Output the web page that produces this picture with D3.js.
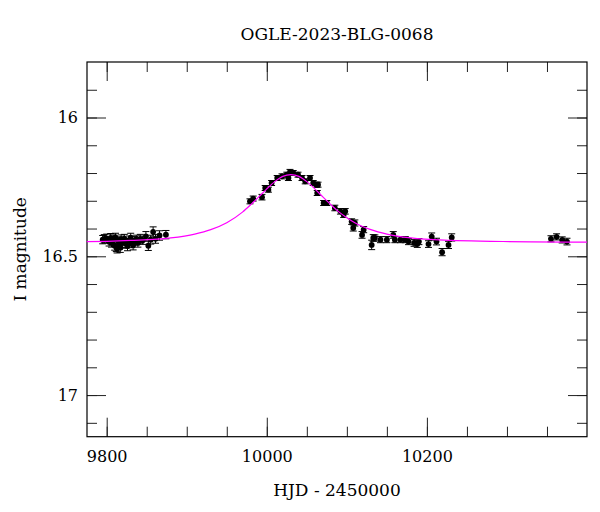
<!DOCTYPE html>
<html>
<head>
<meta charset="utf-8">
<script src="https://cdn.jsdelivr.net/npm/d3@7"></script>
<style>
	body { margin: 0; background: #fff; }
	svg { font-family: "DejaVu Serif", serif; }
</style>
</head>
<body>
<div id="chart"></div>
<script>
// observation epochs (HJD - 2450000)
var obsTime = [
	9795, 9797, 9800, 9803, 9805, 9806, 9808, 9810, 9811, 9812, 9813, 9815,
	9816, 9817, 9818, 9820, 9822, 9824, 9826, 9828, 9830, 9831, 9833, 9835,
	9837, 9839, 9842, 9845, 9849, 9852, 9855, 9858, 9861, 9866, 9874,
	9979, 9983, 9994, 9998, 10002, 10006, 10013, 10019, 10025, 10027, 10029,
	10033, 10039, 10044, 10048, 10054, 10058, 10062, 10064, 10063, 10071, 10075,
	10085, 10092, 10096, 10098, 10106, 10110, 10108, 10121, 10119, 10131, 10133,
	10135, 10142, 10150, 10158, 10160, 10167, 10173, 10177, 10184, 10188, 10190,
	10202, 10206, 10212, 10219, 10227, 10231,
	10355, 10362, 10369, 10375
]

// I magnitudes
var obsMag = [
	16.440, 16.437, 16.436, 16.448, 16.434, 16.452, 16.440, 16.462, 16.432, 16.466, 16.472, 16.445,
	16.458, 16.469, 16.438, 16.452, 16.436, 16.455, 16.463, 16.442, 16.433, 16.454, 16.460, 16.444,
	16.440, 16.452, 16.437, 16.442, 16.428, 16.462, 16.440, 16.412, 16.437, 16.425, 16.422,
	16.302, 16.292, 16.287, 16.254, 16.260, 16.236, 16.218, 16.212, 16.206, 16.218, 16.196,
	16.200, 16.206, 16.218, 16.230, 16.218, 16.236, 16.242, 16.242, 16.272, 16.308, 16.308,
	16.326, 16.338, 16.350, 16.338, 16.375, 16.380, 16.398, 16.404, 16.423, 16.459, 16.434,
	16.434, 16.440, 16.440, 16.423, 16.440, 16.440, 16.440, 16.447, 16.452, 16.456, 16.447,
	16.456, 16.429, 16.447, 16.485, 16.459, 16.432,
	16.437, 16.430, 16.441, 16.447
]

// photometric errors
var obsErr = [
	0.015, 0.015, 0.016, 0.015, 0.016, 0.015, 0.017, 0.016, 0.015, 0.017, 0.016, 0.015,
	0.016, 0.017, 0.015, 0.016, 0.015, 0.016, 0.017, 0.015, 0.016, 0.015, 0.017, 0.015,
	0.016, 0.015, 0.016, 0.015, 0.017, 0.017, 0.016, 0.018, 0.016, 0.017, 0.015,
	0.009, 0.009, 0.010, 0.009, 0.009, 0.009, 0.009, 0.009, 0.009, 0.009, 0.009,
	0.009, 0.009, 0.009, 0.009, 0.009, 0.009, 0.009, 0.009, 0.009, 0.009, 0.009,
	0.010, 0.010, 0.010, 0.010, 0.010, 0.011, 0.011, 0.011, 0.012, 0.017, 0.012,
	0.011, 0.011, 0.011, 0.012, 0.011, 0.011, 0.011, 0.011, 0.012, 0.012, 0.011,
	0.012, 0.013, 0.012, 0.013, 0.013, 0.013,
	0.011, 0.011, 0.011, 0.012
]

// model light curve
var modelTime = [9775, 9800, 9830, 9880, 9910, 9930, 9950, 9970, 9980, 9990, 10000, 10010,
	10020, 10030, 10040, 10050, 10060, 10070, 10080, 10090, 10100, 10110, 10130, 10150,
	10180, 10230, 10280, 10330, 10400]
var modelMag = [16.447, 16.446, 16.443, 16.434, 16.420, 16.404, 16.379, 16.340, 16.314, 16.286,
	16.257, 16.231, 16.212, 16.206, 16.212, 16.231, 16.257, 16.286, 16.314, 16.340, 16.361,
	16.379, 16.404, 16.420, 16.434, 16.443, 16.446, 16.448, 16.449]

var xMajor = [9800, 10000, 10200]
var xMinor = [9800, 9850, 9900, 9950, 10000, 10050, 10100, 10150, 10200, 10250, 10300, 10350]
var yMajor = [16, 16.5, 17]
var yMinor = [15.9, 16, 16.1, 16.2, 16.3, 16.4, 16.5, 16.6, 16.7, 16.8, 16.9, 17, 17.1]

var title = "OGLE-2023-BLG-0068"
var xLabel = "HJD - 2450000"
var yLabel = "I magnitude"

var width = 600
var height = 512
// frame edges (window.top is read-only, so no plain "top")
var pLeft = 87, pRight = 587, pTop = 62, pBottom = 436.7

var svg = d3.select("#chart")
	.append("svg")
	.attr("width", width)
	.attr("height", height)

var x = d3.scaleLinear()
	.domain([9775.4, 10400])
	.range([pLeft, pRight])

// magnitudes grow downward
var y = d3.scaleLinear()
	.domain([15.8, 17.15])
	.range([pTop, pBottom])

//draws one set of inward ticks on a side
function ticks(axis, values, size, labels, transform) {
	var g = svg.append("g")
		.attr("transform", transform)
		.call(axis.tickValues(values).tickSize(-size).tickPadding(labels ? 14 : 0)
			.tickFormat(labels ? d3.format("") : ""))
	g.select(".domain").remove()
	g.selectAll("line").attr("stroke", "#222").attr("stroke-width", 1)
	g.selectAll("text")
		.attr("fill", "#000")
		.style("font-family", '"DejaVu Serif", serif')
		.style("font-size", "16px")
	return g
}

ticks(d3.axisBottom(x), xMinor, 10, false, "translate(0," + pBottom + ")")
ticks(d3.axisBottom(x), xMajor, 19, true, "translate(0," + pBottom + ")")
ticks(d3.axisTop(x), xMinor, 10, false, "translate(0," + pTop + ")")
ticks(d3.axisTop(x), xMajor, 19, false, "translate(0," + pTop + ")")
ticks(d3.axisLeft(y), yMinor, 10, false, "translate(" + pLeft + ",0)")
ticks(d3.axisLeft(y), yMajor, 19, true, "translate(" + pLeft + ",0)")
	.selectAll("text").attr("x", -9)
ticks(d3.axisRight(y), yMinor, 10, false, "translate(" + pRight + ",0)")
ticks(d3.axisRight(y), yMajor, 19, false, "translate(" + pRight + ",0)")

svg.append("rect")
	.attr("x", pLeft)
	.attr("y", pTop)
	.attr("width", pRight - pLeft)
	.attr("height", pBottom - pTop)
	.attr("fill", "none")
	.attr("stroke", "#000")
	.attr("stroke-width", 1.2)

var dat = obsTime.map(function(t, i) {
	return { t: t, mag: obsMag[i], err: obsErr[i] }
})

var plot = svg.append("g")

// error bars with caps
var bars = plot.selectAll(".err")
	.data(dat)
	.enter()
	.append("g")
	.attr("stroke", "#000")
	.attr("stroke-width", 1)
bars.append("line")
	.attr("x1", function(d) { return x(d.t) })
	.attr("x2", function(d) { return x(d.t) })
	.attr("y1", function(d) { return y(d.mag - d.err) })
	.attr("y2", function(d) { return y(d.mag + d.err) })
bars.append("line")
	.attr("x1", function(d) { return x(d.t) - 3.5 })
	.attr("x2", function(d) { return x(d.t) + 3.5 })
	.attr("y1", function(d) { return y(d.mag - d.err) })
	.attr("y2", function(d) { return y(d.mag - d.err) })
bars.append("line")
	.attr("x1", function(d) { return x(d.t) - 3.5 })
	.attr("x2", function(d) { return x(d.t) + 3.5 })
	.attr("y1", function(d) { return y(d.mag + d.err) })
	.attr("y2", function(d) { return y(d.mag + d.err) })

plot.selectAll("circle")
	.data(dat)
	.enter()
	.append("circle")
	.attr("cx", function(d) { return x(d.t) })
	.attr("cy", function(d) { return y(d.mag) })
	.attr("r", 2.9)
	.attr("fill", "#000")

var model = modelTime.map(function(t, i) { return [t, modelMag[i]] })
plot.append("path")
	.datum(model)
	.attr("fill", "none")
	.attr("stroke", "#ff00ff")
	.attr("stroke-width", 1.2)
	.attr("d", d3.line()
		.x(function(d) { return x(d[0]) })
		.y(function(d) { return y(d[1]) })
		.curve(d3.curveMonotoneX))

svg.append("text")
	.attr("x", (pLeft + pRight) / 2)
	.attr("y", 40)
	.attr("text-anchor", "middle")
	.style("font-size", "17px")
	.text(title)

svg.append("text")
	.attr("x", (pLeft + pRight) / 2)
	.attr("y", 496)
	.attr("text-anchor", "middle")
	.style("font-size", "17px")
	.text(xLabel)

svg.append("text")
	.attr("transform", "translate(26," + ((pTop + pBottom) / 2) + ") rotate(-90)")
	.attr("text-anchor", "middle")
	.style("font-size", "17px")
	.text(yLabel)
</script>
</body>
</html>
